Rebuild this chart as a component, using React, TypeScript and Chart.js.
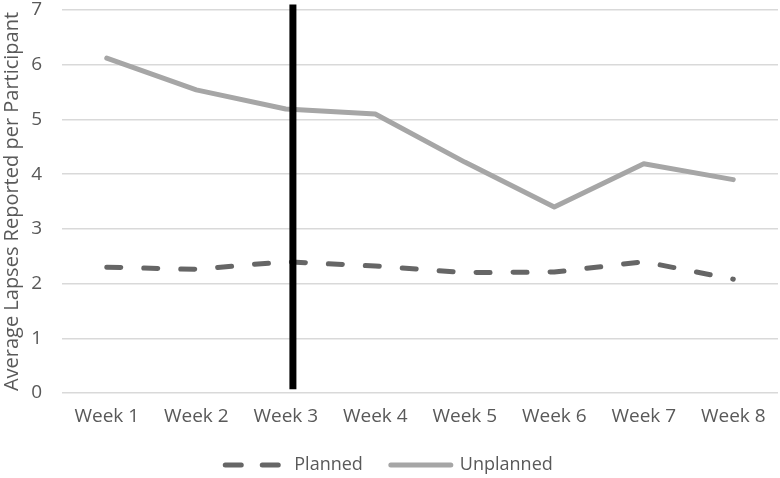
import React, { useEffect, useRef } from "react";
import { Chart, registerables } from "chart.js";

Chart.register(...registerables);

const categories = ["Week 1", "Week 2", "Week 3", "Week 4", "Week 5", "Week 6", "Week 7", "Week 8"];
const plannedValues = [2.3, 2.26, 2.4, 2.32, 2.2, 2.21, 2.4, 2.08];
const unplannedValues = [6.12, 5.54, 5.19, 5.1, 4.22, 3.4, 4.19, 3.9];
const yTicks = [0, 1, 2, 3, 4, 5, 6, 7];
const yAxisTitle = "Average Lapses Reported per Participant";
const markerPosition = 2.08; // category index of the vertical black marker
const markerTop = 7.1;
const markerBottom = 0.07;

const FONT = "'Open Sans', 'DejaVu Sans', sans-serif";
const TEXT = "#595959";

const markerPlugin = {
  id: "markerLine",
  afterDatasetsDraw(chart: any) {
    const x = chart.scales.x.getPixelForValue(markerPosition);
    const yTop = chart.scales.y.getPixelForValue(markerTop);
    const yBot = chart.scales.y.getPixelForValue(markerBottom);
    const ctx = chart.ctx;
    ctx.save();
    ctx.strokeStyle = "#000000";
    ctx.lineWidth = 7;
    ctx.lineCap = "butt";
    ctx.beginPath();
    ctx.moveTo(x, yTop);
    ctx.lineTo(x, yBot);
    ctx.stroke();
    ctx.restore();
  },
};

export default function App() {
  const ref = useRef<HTMLCanvasElement>(null);
  useEffect(() => {
    if (!ref.current) return;
    const chart = new Chart(ref.current, {
      type: "line",
      data: {
        labels: categories,
        datasets: [
          {
            label: "Planned",
            data: plannedValues,
            borderColor: "#666666",
            backgroundColor: "#666666",
            borderWidth: 5,
            borderDash: [14, 23],
            borderCapStyle: "round",
            borderJoinStyle: "round",
            pointRadius: 0,
            pointStyle: "line",
            tension: 0,
          },
          {
            label: "Unplanned",
            data: unplannedValues,
            borderColor: "#A6A6A6",
            backgroundColor: "#A6A6A6",
            borderWidth: 5,
            borderCapStyle: "round",
            borderJoinStyle: "round",
            pointRadius: 0,
            pointStyle: "line",
            tension: 0,
          },
        ],
      },
      options: {
        responsive: false,
        animation: false,
        layout: { padding: { top: 0, right: 2, left: 0, bottom: -6 } },
        plugins: {
          legend: {
            position: "bottom",
            labels: {
              usePointStyle: true,
              pointStyle: "line",
              pointStyleWidth: 60,
              padding: 28,
              color: TEXT,
              font: { family: FONT, size: 18 },
              generateLabels: (chart: any) => {
                const items = Chart.defaults.plugins.legend.labels.generateLabels(chart);
                return items.map((it: any) => {
                  const ds = chart.data.datasets[it.datasetIndex];
                  return {
                    ...it,
                    lineWidth: 5,
                    lineDash: ds.borderDash ? [16, 21] : [],
                    lineCap: "round",
                    strokeStyle: ds.borderColor,
                    fillStyle: ds.borderColor,
                  };
                });
              },
            },
          },
          tooltip: { enabled: false },
        },
        scales: {
          x: {
            offset: true,
            grid: { display: false, drawTicks: false },
            border: { display: false },
            ticks: { color: TEXT, font: { family: FONT, size: 19 }, padding: 12, maxRotation: 0 },
            afterFit: (scale: any) => {
              scale.height = 35;
            },
          },
          y: {
            min: 0,
            max: 7,
            afterBuildTicks: (scale: any) => {
              scale.ticks = yTicks.map((v) => ({ value: v }));
            },
            afterFit: (scale: any) => {
              scale.width = 62;
              scale.paddingTop = 10;
              scale.paddingBottom = 0;
            },
            grid: { color: "#D9D9D9", lineWidth: 1.5, drawTicks: false },
            border: { display: false },
            ticks: { color: TEXT, font: { family: FONT, size: 19 }, padding: 20 },
            title: {
              display: true,
              text: yAxisTitle,
              color: TEXT,
              font: { family: FONT, size: 20 },
              padding: 0,
            },
          },
        },
      },
      plugins: [markerPlugin],
    });
    return () => chart.destroy();
  }, []);
  return (
    <div style={{ position: "fixed", left: 0, top: 0, width: 780, height: 478, background: "#fff" }}>
      <canvas ref={ref} width={780} height={478} />
    </div>
  );
}
